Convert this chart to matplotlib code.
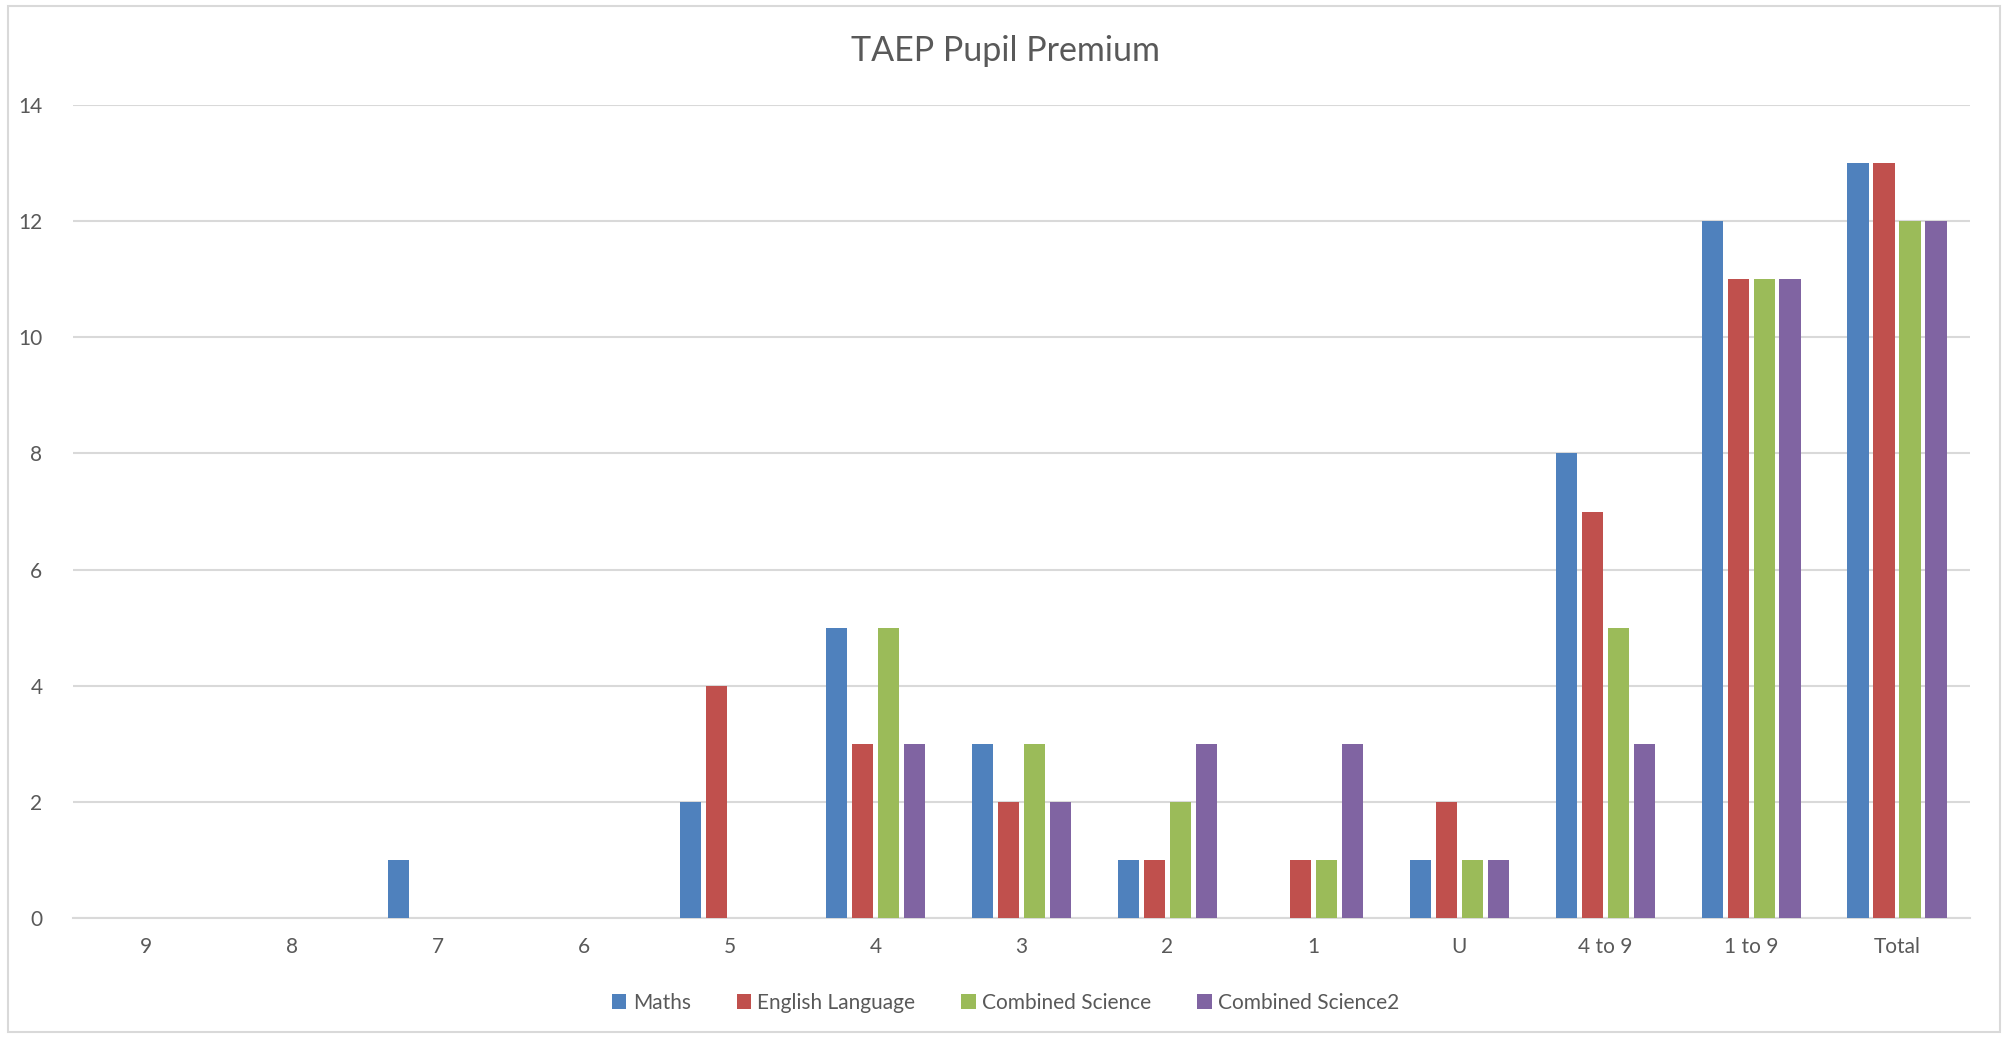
import matplotlib.pyplot as plt
import numpy as np
from matplotlib.patches import Rectangle

categories = ["9", "8", "7", "6", "5", "4", "3", "2", "1", "U", "4 to 9", "1 to 9", "Total"]
maths = [0, 0, 1, 0, 2, 5, 3, 1, 0, 1, 8, 12, 13]
english = [0, 0, 0, 0, 4, 3, 2, 1, 1, 2, 7, 11, 13]
comb_sci = [0, 0, 0, 0, 0, 5, 3, 2, 1, 1, 5, 11, 12]
comb_sci2 = [0, 0, 0, 0, 0, 3, 2, 3, 3, 1, 3, 11, 12]
series_names = ["Maths", "English Language", "Combined Science", "Combined Science2"]
colors = ["#4F81BD", "#C0504D", "#9BBB59", "#8064A2"]

plt.rcParams['font.family'] = ['Lato', 'DejaVu Sans']
text_col = "#595959"
grid_col = "#D9D9D9"

fig = plt.figure(figsize=(20.11, 10.38), dpi=100)
fig.patches.append(Rectangle((8 / 2011, 6 / 1038), 1992 / 2011, 1026 / 1038,
                             transform=fig.transFigure, fill=False,
                             edgecolor=grid_col, linewidth=1.5))
ax = fig.add_axes([73 / 2011, 1 - 918 / 1038, 1897 / 2011, (918 - 105) / 1038])

x = np.arange(len(categories))
step = 0.178
width = 0.145
for i, (vals, name, c) in enumerate(zip([maths, english, comb_sci, comb_sci2], series_names, colors)):
    ax.bar(x + (i - 1.5) * step, vals, width, color=c, label=name, zorder=3)

ax.set_xlim(-0.5, len(categories) - 0.5)
ax.set_ylim(0, 14)
ax.set_yticks(range(0, 15, 2))
ax.set_xticks(x)
ax.set_xticklabels(categories)
ax.tick_params(axis='both', length=0, labelsize=15, labelcolor=text_col)
ax.tick_params(axis='x', pad=14)
ax.tick_params(axis='y', pad=22)
ax.grid(axis='y', color=grid_col, linewidth=1.5, zorder=0)
for s in ["top", "right", "left"]:
    ax.spines[s].set_visible(False)
ax.spines["bottom"].set_color(grid_col)
ax.spines["bottom"].set_linewidth(1.5)

fig.text(0.5, 1 - 51 / 1038, "TAEP Pupil Premium", ha='center', va='center',
         fontsize=24.5, color=text_col)
fig.legend(loc='center', bbox_to_anchor=(0.5, 1 - 1003 / 1038), ncol=4, frameon=False,
           fontsize=15, labelcolor=text_col, handlelength=0.7, handleheight=0.7,
           handletextpad=0.3, columnspacing=2.2)

fig.savefig("out.png", dpi=100)
